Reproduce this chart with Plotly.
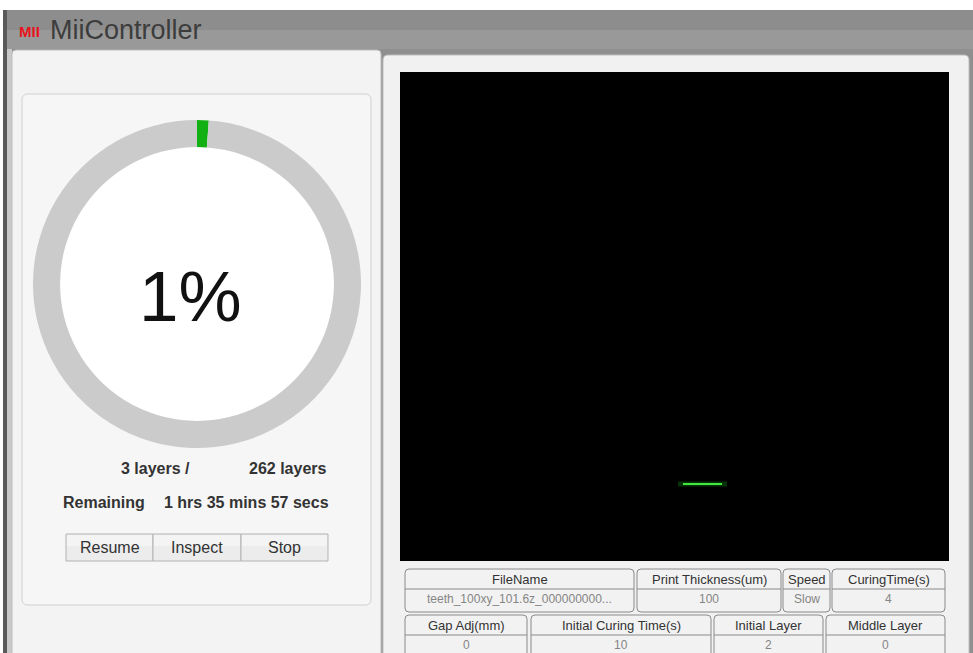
import plotly.graph_objects as go

# progress data
layers_done = 3
layers_total = 262
remaining = "1 hrs 35 mins 57 secs"
buttons = ["Resume", "Inspect", "Stop"]

# print settings table
row1_headers = ["FileName", "Print Thickness(um)", "Speed", "CuringTime(s)"]
row1_values = ["teeth_100xy_101.6z_000000000...", "100", "Slow", "4"]
row2_headers = ["Gap Adj(mm)", "Initial Curing Time(s)", "Initial Layer", "Middle Layer"]
row2_values = ["0", "10", "2", "0"]

W, H = 973, 653
FONT = "Arial, Liberation Sans, sans-serif"

pct = round(100 * layers_done / layers_total)


def rrect(x0, y0, x1, y1, r, fill, line, lw=1, layer="below"):
    path = (f"M {x0+r},{y0} L {x1-r},{y0} Q {x1},{y0} {x1},{y0+r} "
            f"L {x1},{y1-r} Q {x1},{y1} {x1-r},{y1} L {x0+r},{y1} "
            f"Q {x0},{y1} {x0},{y1-r} L {x0},{y0+r} Q {x0},{y0} {x0+r},{y0} Z")
    return dict(type="path", path=path, xref="x", yref="y", fillcolor=fill,
                line=dict(color=line, width=lw), layer=layer)


def rect(x0, y0, x1, y1, fill, line=None, lw=0, layer="below"):
    return dict(type="rect", x0=x0, x1=x1, y0=y0, y1=y1, xref="x", yref="y",
                fillcolor=fill, line=dict(color=line or fill, width=lw), layer=layer)


shapes = []
anns = []

# window frame and header bar
shapes.append(rect(0, 0, W, H, "#ffffff"))
shapes.append(rect(3, 10, W, H, "#8f8f8f"))
shapes.append(rect(3, 10, W, 30, "#8d8d8d"))
shapes.append(rect(3, 30, W, 49, "#999999"))
shapes.append(rect(3, 10, 7, H, "#5a5a5a"))
shapes.append(rect(7, 49, 12, H, "#c9c9c9"))

# left panel and card
shapes.append(rrect(12, 50, 381, H + 10, 4, "#f3f3f3", "#bdbdbd"))
shapes.append(rrect(22, 94, 371, 605, 6, "#f6f6f6", "#d0d0d0"))
# white hole of the donut
shapes.append(dict(type="circle", x0=60, x1=334, y0=147, y1=421, xref="x", yref="y",
                   fillcolor="#ffffff", line=dict(width=0), layer="below"))

# right panel and camera view
shapes.append(rrect(383, 55, 969, H + 10, 5, "#f1f1f1", "#bdbdbd"))
shapes.append(rect(400, 72, 949, 561, "#000000"))
shapes.append(dict(type="line", x0=678, x1=727, y0=484, y1=484, xref="x", yref="y",
                   line=dict(color="rgba(20,110,20,0.45)", width=5), layer="below"))
shapes.append(dict(type="line", x0=683, x1=722, y0=484, y1=484, xref="x", yref="y",
                   line=dict(color="#3ee83e", width=2), layer="below"))

# title
anns.append(dict(x=17, y=31, text="<b>MII</b>", showarrow=False, xanchor="left",
                 font=dict(family=FONT, size=15, color="#e8141c")))
anns.append(dict(x=48, y=30, text="MiiController", showarrow=False, xanchor="left",
                 font=dict(family=FONT, size=27, color="#3c3c3c")))

# centre percentage
anns.append(dict(x=190, y=296, text=f"{pct}%", showarrow=False,
                 font=dict(family=FONT, size=71, color="#111111")))

# layer counts and remaining time
TXT = dict(family=FONT, size=16, color="#333333")
anns.append(dict(x=192, y=468, text=f"<b>{layers_done} layers /</b>", showarrow=False,
                 xanchor="right", font=TXT))
anns.append(dict(x=329, y=468, text=f"<b>{layers_total} layers</b>", showarrow=False,
                 xanchor="right", font=TXT))
anns.append(dict(x=61, y=502, text="<b>Remaining</b>", showarrow=False,
                 xanchor="left", font=TXT))
anns.append(dict(x=331, y=502, text=f"<b>{remaining}</b>", showarrow=False,
                 xanchor="right", font=TXT))

# buttons
bx = [66, 153, 241, 328]
for i, b in enumerate(buttons):
    shapes.append(rect(bx[i], 534, bx[i + 1], 561, "#ececec", "#b3b3b3", 1))
    shapes.append(rect(bx[i] + 1, 535, bx[i + 1] - 1, 546, "#f4f4f4"))
    anns.append(dict(x=(bx[i] + bx[i + 1]) / 2, y=547, text=b, showarrow=False,
                     font=dict(family=FONT, size=16, color="#333333")))

# table
rows = [
    (row1_headers, row1_values, [(405, 634), (637, 781), (783, 830), (832, 945)], 569),
    (row2_headers, row2_values, [(405, 527), (531, 711), (714, 823), (826, 945)], 615),
]
for headers, values, edges, top in rows:
    for h, v, (x0, x1) in zip(headers, values, edges):
        shapes.append(rrect(x0, top, x1, top + 43, 4, "#f2f2f2", "#8a8a8a"))
        shapes.append(dict(type="line", x0=x0, x1=x1, y0=top + 20, y1=top + 20,
                           xref="x", yref="y", line=dict(color="#8a8a8a", width=1),
                           layer="below"))
        anns.append(dict(x=(x0 + x1) / 2, y=top + 10, text=h, showarrow=False,
                         font=dict(family=FONT, size=13, color="#333333")))
        anns.append(dict(x=(x0 + x1) / 2, y=top + 30, text=v, showarrow=False,
                         font=dict(family=FONT, size=12, color="#858585")))

fig = go.Figure()
fig.add_trace(go.Pie(
    values=[layers_done, layers_total - layers_done],
    labels=["done", "left"],
    marker=dict(colors=["#13b013", "#cbcbcb"], line=dict(width=0)),
    hole=0.835, sort=False, direction="clockwise", rotation=0,
    textinfo="none", hoverinfo="skip", showlegend=False,
    domain=dict(x=[33 / W, 361 / W], y=[1 - 448 / H, 1 - 120 / H]),
))

fig.update_layout(
    width=W, height=H, margin=dict(l=0, r=0, t=0, b=0),
    paper_bgcolor="#ffffff", plot_bgcolor="#ffffff",
    xaxis=dict(range=[0, W], visible=False, fixedrange=True),
    yaxis=dict(range=[H, 0], visible=False, fixedrange=True),
    shapes=shapes, annotations=anns, showlegend=False,
)

fig.write_html("out.html", config={"displayModeBar": False},
               post_script="document.body.style.margin='0';document.body.style.overflow='hidden';")
